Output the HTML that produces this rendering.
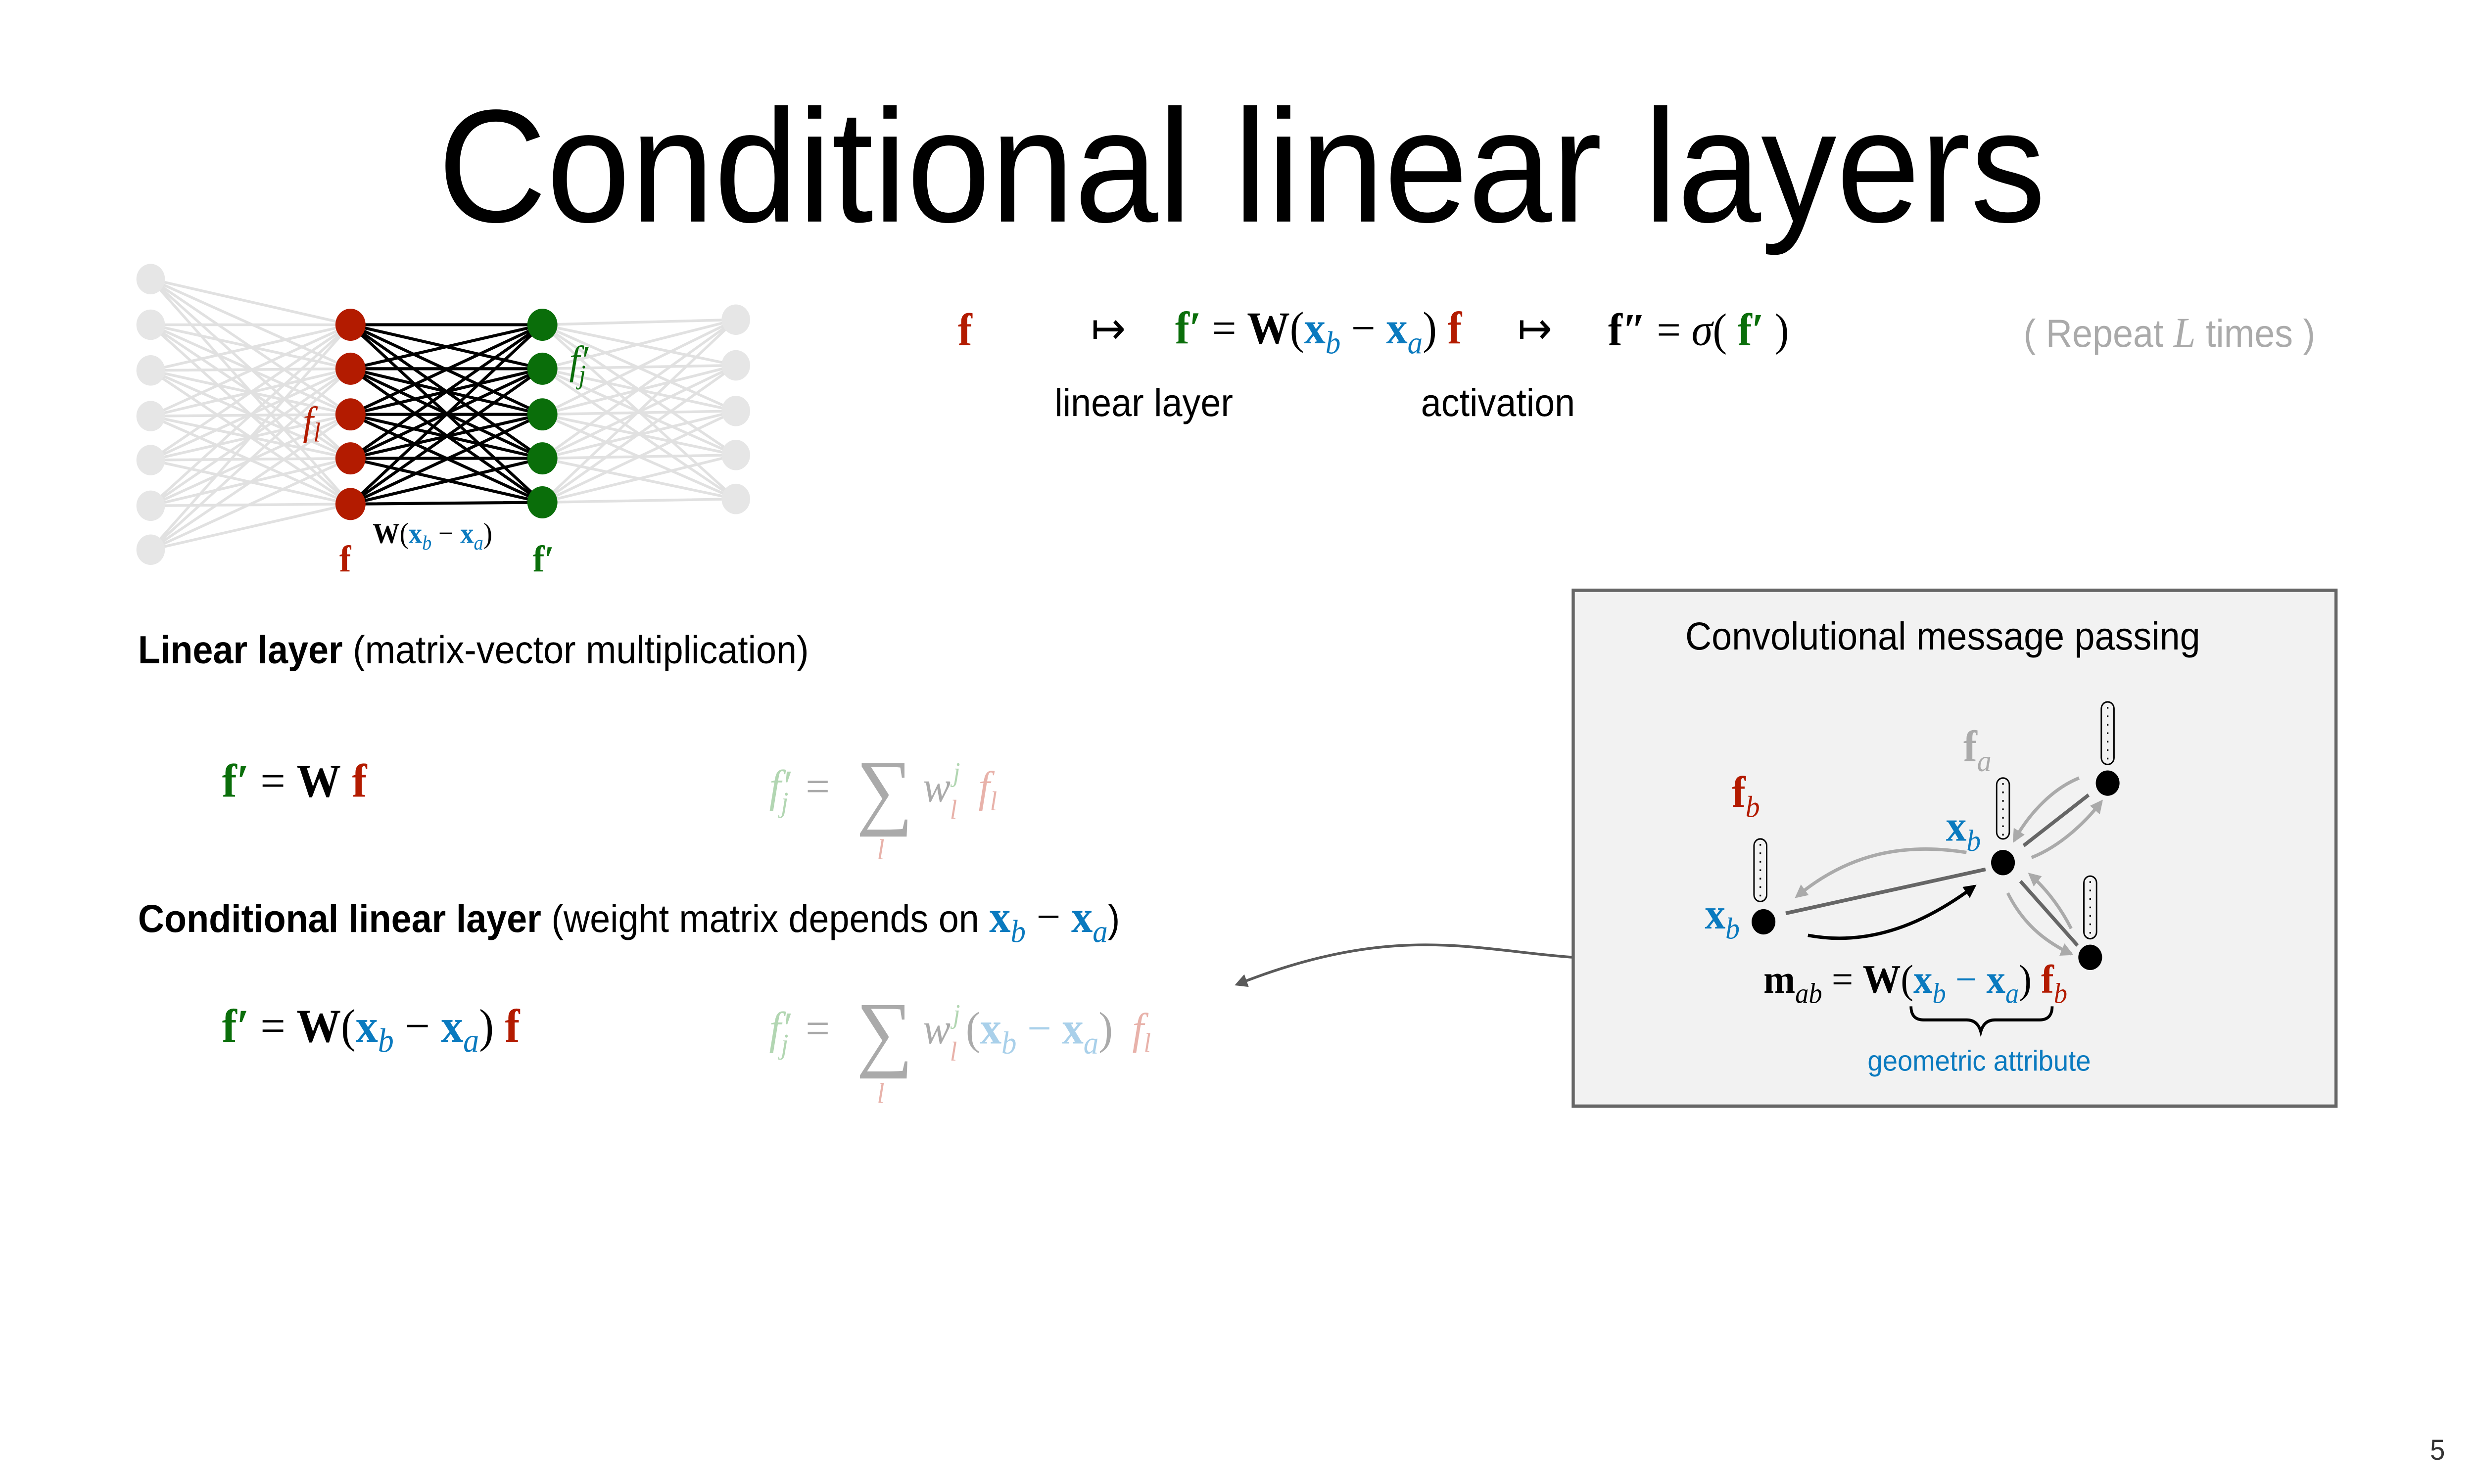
<!DOCTYPE html>
<html><head><meta charset="utf-8"><style>
html,body{margin:0;padding:0;background:#fff;overflow:hidden;}
svg{display:block;width:100vw;height:100vh;}
.s{font-family:"Liberation Sans",sans-serif;}
.m{font-family:"Liberation Serif",serif;}
</style></head><body>
<svg viewBox="0 0 1560 877.4" preserveAspectRatio="none" xmlns="http://www.w3.org/2000/svg">
<defs>
<marker id="ag" viewBox="0 0 10 10" refX="8" refY="5" markerWidth="4" markerHeight="4" orient="auto"><path d="M0 0L10 5L0 10z" fill="#aaa"/></marker>
<marker id="ab" viewBox="0 0 10 10" refX="8" refY="5" markerWidth="4" markerHeight="4" orient="auto"><path d="M0 0L10 5L0 10z" fill="#000"/></marker>
<marker id="ad" viewBox="0 0 10 10" refX="8" refY="5" markerWidth="5" markerHeight="5" orient="auto"><path d="M0 0L10 5L0 10z" fill="#5a5a5a"/></marker>
</defs>
<rect width="1560" height="877.4" fill="#fff"/>
<text x="783" y="131" text-anchor="middle" class="s" font-size="95">Conditional linear layers</text>

<g stroke="#d4d4d4" stroke-width="1.6" stroke-opacity="0.7" fill="none">
<path d="M95 165L221 192M95 165L221 218M95 165L221 245M95 165L221 271M95 165L221 298
M95 192L221 192M95 192L221 218M95 192L221 245M95 192L221 271M95 192L221 298
M95 219L221 192M95 219L221 218M95 219L221 245M95 219L221 271M95 219L221 298
M95 246L221 192M95 246L221 218M95 246L221 245M95 246L221 271M95 246L221 298
M95 272L221 192M95 272L221 218M95 272L221 245M95 272L221 271M95 272L221 298
M95 299L221 192M95 299L221 218M95 299L221 245M95 299L221 271M95 299L221 298
M95 325L221 192M95 325L221 218M95 325L221 245M95 325L221 271M95 325L221 298
M342 192L464 189M342 192L464 216M342 192L464 243M342 192L464 269M342 192L464 295
M342 218L464 189M342 218L464 216M342 218L464 243M342 218L464 269M342 218L464 295
M342 245L464 189M342 245L464 216M342 245L464 243M342 245L464 269M342 245L464 295
M342 271L464 189M342 271L464 216M342 271L464 243M342 271L464 269M342 271L464 295
M342 297L464 189M342 297L464 216M342 297L464 243M342 297L464 269M342 297L464 295"/>
</g>
<g stroke="#000" stroke-width="1.8" fill="none">
<path d="M221 192L342 192M221 192L342 218M221 192L342 245M221 192L342 271M221 192L342 297
M221 218L342 192M221 218L342 218M221 218L342 245M221 218L342 271M221 218L342 297
M221 245L342 192M221 245L342 218M221 245L342 245M221 245L342 271M221 245L342 297
M221 271L342 192M221 271L342 218M221 271L342 245M221 271L342 271M221 271L342 297
M221 298L342 192M221 298L342 218M221 298L342 245M221 298L342 271M221 298L342 297"/>
</g>
<g fill="#e6e6e6">
<ellipse cx="95" cy="165" rx="9" ry="9"/><ellipse cx="95" cy="192" rx="9" ry="9"/><ellipse cx="95" cy="219" rx="9" ry="9"/><ellipse cx="95" cy="246" rx="9" ry="9"/><ellipse cx="95" cy="272" rx="9" ry="9"/><ellipse cx="95" cy="299" rx="9" ry="9"/><ellipse cx="95" cy="325" rx="9" ry="9"/>
<ellipse cx="464" cy="189" rx="9" ry="9"/><ellipse cx="464" cy="216" rx="9" ry="9"/><ellipse cx="464" cy="243" rx="9" ry="9"/><ellipse cx="464" cy="269" rx="9" ry="9"/><ellipse cx="464" cy="295" rx="9" ry="9"/>
</g>
<g fill="#b31b00">
<ellipse cx="221" cy="192" rx="9.5" ry="9.5"/><ellipse cx="221" cy="218" rx="9.5" ry="9.5"/><ellipse cx="221" cy="245" rx="9.5" ry="9.5"/><ellipse cx="221" cy="271" rx="9.5" ry="9.5"/><ellipse cx="221" cy="298" rx="9.5" ry="9.5"/>
</g>
<g fill="#0a6e0a">
<ellipse cx="342" cy="192" rx="9.5" ry="9.5"/><ellipse cx="342" cy="218" rx="9.5" ry="9.5"/><ellipse cx="342" cy="245" rx="9.5" ry="9.5"/><ellipse cx="342" cy="271" rx="9.5" ry="9.5"/><ellipse cx="342" cy="297" rx="9.5" ry="9.5"/>
</g>
<text x="191" y="257" class="m" font-size="24" font-style="italic" fill="#b31b00">f<tspan font-size="16" dy="4">l</tspan></text>
<text x="359" y="221" class="m" font-size="24" font-style="italic" fill="#0a6e0a">f′<tspan font-size="16" dy="6" dx="-6">j</tspan></text>
<text x="214" y="338" class="m" font-size="22" font-weight="bold" fill="#b31b00">f</text>
<text x="336" y="338" class="m" font-size="22" font-weight="bold" fill="#0a6e0a">f′</text>
<text x="235" y="321" class="m" font-size="17"><tspan font-weight="bold">W</tspan>(<tspan fill="#0a7abf" font-weight="bold">x</tspan><tspan fill="#0a7abf" font-style="italic" font-size="12" dy="4">b</tspan><tspan dy="-4"> − </tspan><tspan fill="#0a7abf" font-weight="bold">x</tspan><tspan fill="#0a7abf" font-style="italic" font-size="12" dy="4">a</tspan><tspan dy="-4">)</tspan></text>

<text x="604" y="204" class="m" font-size="27" font-weight="bold" fill="#b31b00">f</text>
<text x="688" y="203" class="m" font-size="26">↦</text>
<text x="741" y="203" class="m" font-size="27"><tspan font-weight="bold" fill="#0a6e0a">f′</tspan> = <tspan font-weight="bold">W</tspan>(<tspan font-weight="bold" fill="#0a7abf">x</tspan><tspan font-style="italic" font-size="19" fill="#0a7abf" dy="6">b</tspan><tspan dy="-6"> − </tspan><tspan font-weight="bold" fill="#0a7abf">x</tspan><tspan font-style="italic" font-size="19" fill="#0a7abf" dy="6">a</tspan><tspan dy="-6">) </tspan><tspan font-weight="bold" fill="#b31b00">f</tspan></text>
<text x="957" y="203" class="m" font-size="26">↦</text>
<text x="1014" y="204" class="m" font-size="27"><tspan font-weight="bold">f″</tspan> = <tspan font-style="italic">σ</tspan>( <tspan font-weight="bold" fill="#0a6e0a">f′</tspan> )</text>
<text x="1276" y="205" class="s" font-size="23" fill="#aaa">( Repeat <tspan class="m" font-style="italic" font-size="25">L</tspan> times )</text>
<text x="665" y="246" class="s" font-size="23">linear layer</text>
<text x="896" y="246" class="s" font-size="23">activation</text>

<text x="87" y="392" class="s" font-size="23"><tspan font-weight="bold">Linear layer</tspan> (matrix-vector multiplication)</text>
<text x="140" y="471" class="m" font-size="28"><tspan font-weight="bold" fill="#0a6e0a">f′</tspan> = <tspan font-weight="bold">W</tspan>  <tspan font-weight="bold" fill="#b31b00">f</tspan></text>
<g class="m" font-style="italic">
<text x="485" y="474" font-size="27" fill="#b2d6b2">f′<tspan font-size="17" dy="6" dx="-6">j</tspan></text>
<text x="508" y="474" font-size="27" fill="#aaa" font-style="normal">=</text>
<text x="540" y="484" font-size="50" fill="#aaa" font-style="normal">∑</text>
<text x="553" y="508" font-size="17" fill="#e8b2aa">l</text>
<text x="582" y="474" font-size="26" fill="#aaa">w</text>
<text x="601" y="462" font-size="16" fill="#b2d6b2">j</text>
<text x="599" y="484" font-size="16" fill="#e8b2aa">l</text>
<text x="617" y="474" font-size="26" fill="#e8b2aa">f<tspan font-size="16" dy="5">l</tspan></text>
</g>

<text x="87" y="551" class="s" font-size="23"><tspan font-weight="bold">Conditional linear layer</tspan> (weight matrix depends on <tspan class="m" font-weight="bold" font-size="27" fill="#0a7abf">x</tspan><tspan class="m" font-style="italic" font-size="19" fill="#0a7abf" dy="6">b</tspan><tspan class="m" font-size="27" dy="-6"> − </tspan><tspan class="m" font-weight="bold" font-size="27" fill="#0a7abf">x</tspan><tspan class="m" font-style="italic" font-size="19" fill="#0a7abf" dy="6">a</tspan><tspan dy="-6">)</tspan></text>
<text x="140" y="616" class="m" font-size="28"><tspan font-weight="bold" fill="#0a6e0a">f′</tspan> = <tspan font-weight="bold">W</tspan>(<tspan font-weight="bold" fill="#0a7abf">x</tspan><tspan font-style="italic" font-size="20" fill="#0a7abf" dy="6">b</tspan><tspan dy="-6"> − </tspan><tspan font-weight="bold" fill="#0a7abf">x</tspan><tspan font-style="italic" font-size="20" fill="#0a7abf" dy="6">a</tspan><tspan dy="-6">) </tspan><tspan font-weight="bold" fill="#b31b00">f</tspan></text>
<g class="m" font-style="italic">
<text x="485" y="617" font-size="27" fill="#b2d6b2">f′<tspan font-size="17" dy="6" dx="-6">j</tspan></text>
<text x="508" y="617" font-size="27" fill="#aaa" font-style="normal">=</text>
<text x="540" y="627" font-size="50" fill="#aaa" font-style="normal">∑</text>
<text x="553" y="652" font-size="17" fill="#e8b2aa">l</text>
<text x="582" y="617" font-size="26" fill="#aaa">w</text>
<text x="601" y="605" font-size="16" fill="#b2d6b2">j</text>
<text x="599" y="627" font-size="16" fill="#e8b2aa">l</text>
<text x="609" y="617" font-size="27" font-style="normal" fill="#aaa">(<tspan font-weight="bold" fill="#a9d0ea">x</tspan><tspan font-style="italic" font-size="19" fill="#a9d0ea" dy="6">b</tspan><tspan dy="-6" fill="#a9d0ea"> − </tspan><tspan font-weight="bold" fill="#a9d0ea">x</tspan><tspan font-style="italic" font-size="19" fill="#a9d0ea" dy="6">a</tspan><tspan dy="-6">)</tspan></text>
<text x="714" y="617" font-size="26" fill="#e8b2aa">f<tspan font-size="16" dy="5">l</tspan></text>
</g>

<path d="M992 566 C 930 562, 880 545, 780 582" stroke="#5a5a5a" stroke-width="1.6" fill="none" marker-end="url(#ad)"/>

<rect x="992" y="349" width="481" height="305" fill="#f2f2f2" stroke="#666" stroke-width="2"/>
<text x="1225" y="384" text-anchor="middle" class="s" font-size="23">Convolutional message passing</text>

<g fill="none">
<path d="M1126 540L1252 514" stroke="#666" stroke-width="2.2"/>
<path d="M1276 500L1317 470" stroke="#666" stroke-width="2.2"/>
<path d="M1274 521L1310 559" stroke="#666" stroke-width="2.2"/>
<path d="M1140 553 C 1180 560, 1215 545, 1245 524" stroke="#000" stroke-width="2" marker-end="url(#ab)"/>
<path d="M1240 504 C 1200 498, 1165 505, 1133 530" stroke="#aaa" stroke-width="2" marker-end="url(#ag)"/>
<path d="M1311 460 C 1295 466, 1280 480, 1270 497" stroke="#aaa" stroke-width="2" marker-end="url(#ag)"/>
<path d="M1281 507 C 1300 500, 1316 485, 1325 474" stroke="#aaa" stroke-width="2" marker-end="url(#ag)"/>
<path d="M1266 528 C 1275 545, 1288 556, 1306 564" stroke="#aaa" stroke-width="2" marker-end="url(#ag)"/>
<path d="M1306 549 C 1300 538, 1292 527, 1280 517" stroke="#aaa" stroke-width="2" marker-end="url(#ag)"/>
</g>
<g fill="none" stroke="#000" stroke-width="0.9">
<rect x="1106" y="496" width="8" height="37" rx="4"/>
<rect x="1259" y="460" width="8" height="36" rx="4"/>
<rect x="1325" y="415" width="8" height="37" rx="4"/>
<rect x="1314" y="518" width="8" height="37" rx="4"/>
</g>
<g stroke="#000" stroke-width="1" stroke-dasharray="1 4" fill="none">
<path d="M1110 499V531M1263 463V494M1329 418V450M1318 521V553"/>
</g>
<g fill="#000">
<ellipse cx="1112" cy="545" rx="7.5" ry="7.5"/>
<ellipse cx="1263" cy="510" rx="7.5" ry="7.5"/>
<ellipse cx="1329" cy="463" rx="7.5" ry="7.5"/>
<ellipse cx="1318" cy="566" rx="7.5" ry="7.5"/>
</g>
<text x="1092" y="477" class="m" font-size="26" font-weight="bold" fill="#b31b00">f<tspan font-style="italic" font-weight="normal" font-size="18" dy="6">b</tspan></text>
<text x="1238" y="450" class="m" font-size="26" font-weight="bold" fill="#aaa">f<tspan font-style="italic" font-weight="normal" font-size="18" dy="6">a</tspan></text>
<text x="1227" y="497" class="m" font-size="26" font-weight="bold" fill="#0a7abf">x<tspan font-style="italic" font-weight="normal" font-size="18" dy="6">b</tspan></text>
<text x="1075" y="549" class="m" font-size="26" font-weight="bold" fill="#0a7abf">x<tspan font-style="italic" font-weight="normal" font-size="18" dy="6">b</tspan></text>
<text x="1112" y="587" class="m" font-size="24"><tspan font-weight="bold">m</tspan><tspan font-style="italic" font-size="17" dy="6">ab</tspan><tspan dy="-6"> = </tspan><tspan font-weight="bold">W</tspan>(<tspan font-weight="bold" fill="#0a7abf">x</tspan><tspan font-style="italic" font-size="17" fill="#0a7abf" dy="6">b</tspan><tspan dy="-6" fill="#0a7abf"> − </tspan><tspan font-weight="bold" fill="#0a7abf">x</tspan><tspan font-style="italic" font-size="17" fill="#0a7abf" dy="6">a</tspan><tspan dy="-6">) </tspan><tspan font-weight="bold" fill="#b31b00">f</tspan><tspan font-style="italic" font-size="17" fill="#b31b00" dy="6">b</tspan></text>
<path d="M1205 595 Q1205 603 1213 603 L1240 603 Q1247 603 1249 610 Q1251 603 1258 603 L1286 603 Q1294 603 1294 595" stroke="#000" stroke-width="1.8" fill="none"/>
<text x="1248" y="633" text-anchor="middle" class="s" font-size="17" fill="#0a7abf">geometric attribute</text>

<text x="1537" y="863" text-anchor="middle" class="s" font-size="17" fill="#333">5</text>
</svg>
</body></html>
